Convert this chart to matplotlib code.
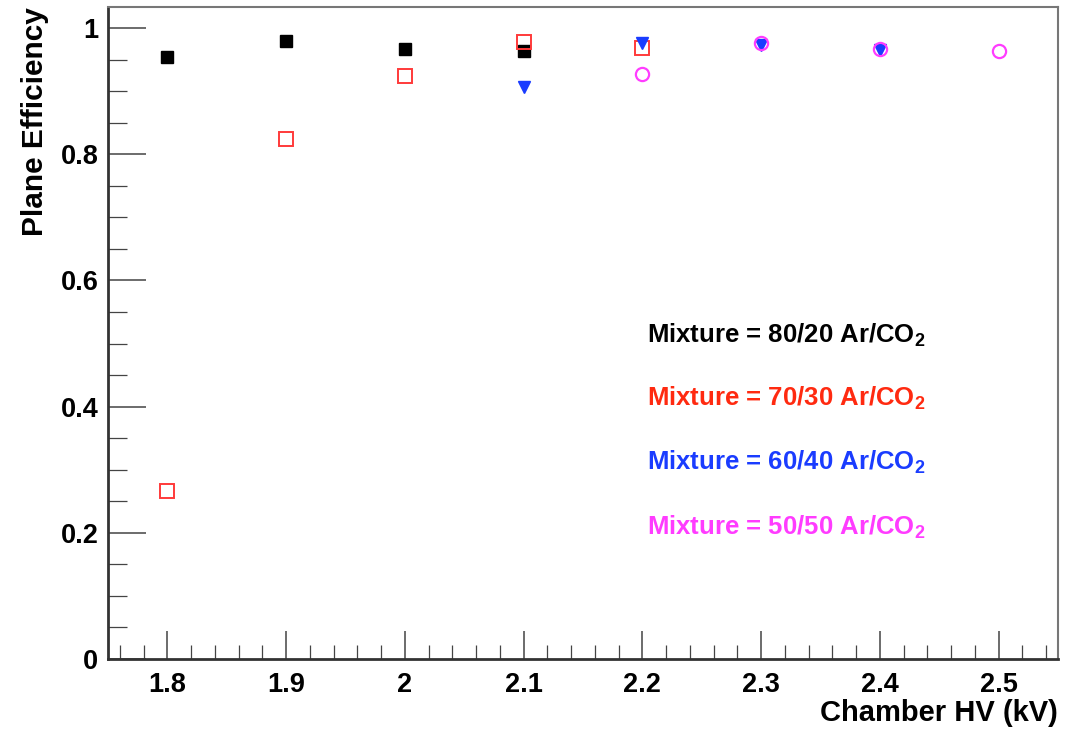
#!/usr/bin/env python3
"""Plane efficiency vs chamber HV for four Ar/CO2 mixtures."""

import matplotlib
matplotlib.use("Agg")
import matplotlib.pyplot as plt
from matplotlib.ticker import MultipleLocator

plt.rcParams["font.family"] = ["Liberation Sans", "DejaVu Sans"]
plt.rcParams["font.weight"] = "bold"
plt.rcParams["mathtext.fontset"] = "custom"
plt.rcParams["mathtext.rm"] = "Liberation Sans:bold"
plt.rcParams["mathtext.bf"] = "Liberation Sans:bold"
plt.rcParams["mathtext.default"] = "bf"

# 80/20 Ar/CO2
hv_8020 = [1.8, 1.9, 2.0, 2.1]
eff_8020 = [0.955, 0.980, 0.967, 0.963]
# 70/30 Ar/CO2
hv_7030 = [1.8, 1.9, 2.0, 2.1, 2.2]
eff_7030 = [0.266, 0.824, 0.924, 0.978, 0.968]
# 60/40 Ar/CO2
hv_6040 = [2.1, 2.2, 2.3, 2.4]
eff_6040 = [0.906, 0.977, 0.974, 0.966]
# 50/50 Ar/CO2
hv_5050 = [2.2, 2.3, 2.4, 2.5]
eff_5050 = [0.928, 0.977, 0.967, 0.963]

labels = [
    "Mixture = 80/20 Ar/CO$_2$",
    "Mixture = 70/30 Ar/CO$_2$",
    "Mixture = 60/40 Ar/CO$_2$",
    "Mixture = 50/50 Ar/CO$_2$",
]
label_y = [0.513, 0.413, 0.312, 0.209]

black = "#000000"
red = "#ff3a3a"
blue = "#1a3cff"
magenta = "#ff3cff"

fig = plt.figure(figsize=(10.78, 7.29), dpi=100)
ax = fig.add_axes([0.1002, 0.096, 0.8812, 0.894])

ax.plot(hv_8020, eff_8020, ls="none", marker="s", ms=8.5, color=black)
ax.plot(hv_7030, eff_7030, ls="none", marker="s", ms=9.5, mfc="none",
        mec=red, mew=1.4)
ax.plot(hv_6040, eff_6040, ls="none", marker="v", ms=8.5, color=blue)
ax.plot(hv_5050, eff_5050, ls="none", marker="o", ms=9.5, mfc="none",
        mec=magenta, mew=1.6)

for text, y, c in zip(labels, label_y, [black, "#ff2a10", blue, magenta]):
    ax.text(2.204, y, text, color=c, fontsize=18.5, fontweight="bold",
            va="center", ha="left")

ax.set_xlim(1.75, 2.55)
ax.set_ylim(0, 1.033)

ax.xaxis.set_major_locator(MultipleLocator(0.1))
ax.xaxis.set_minor_locator(MultipleLocator(0.02))
ax.yaxis.set_major_locator(MultipleLocator(0.2))
ax.yaxis.set_minor_locator(MultipleLocator(0.05))


def fmt(v, pos):
    s = f"{v:.1f}"
    if s.endswith(".0"):
        s = s[:-2]
    return s


ax.xaxis.set_major_formatter(fmt)
ax.yaxis.set_major_formatter(fmt)

ax.tick_params(which="both", direction="in", top=False, right=False,
               labelsize=19.5, colors="#444444", labelcolor="black")
ax.tick_params(axis="x", which="major", length=20, width=1.1, pad=9)
ax.tick_params(axis="x", which="minor", length=10, width=0.9)
ax.tick_params(axis="y", which="major", length=27, width=1.1, pad=7)
ax.tick_params(axis="y", which="minor", length=14, width=0.9)
for lab in ax.get_xticklabels() + ax.get_yticklabels():
    lab.set_fontweight("bold")

for side in ["left", "bottom"]:
    ax.spines[side].set_linewidth(2.0)
    ax.spines[side].set_color("#333333")
for side in ["top", "right"]:
    ax.spines[side].set_linewidth(1.5)
    ax.spines[side].set_color("#777777")

ax.set_xlabel("Chamber HV (kV)", fontsize=21, fontweight="bold", ha="right")
ax.xaxis.set_label_coords(1.0, -0.062)
ax.set_ylabel("Plane Efficiency", fontsize=21.5, fontweight="bold", ha="right")
ax.yaxis.set_label_coords(-0.062, 1.0)

fig.savefig("out.png", dpi=100)
plt.close(fig)
